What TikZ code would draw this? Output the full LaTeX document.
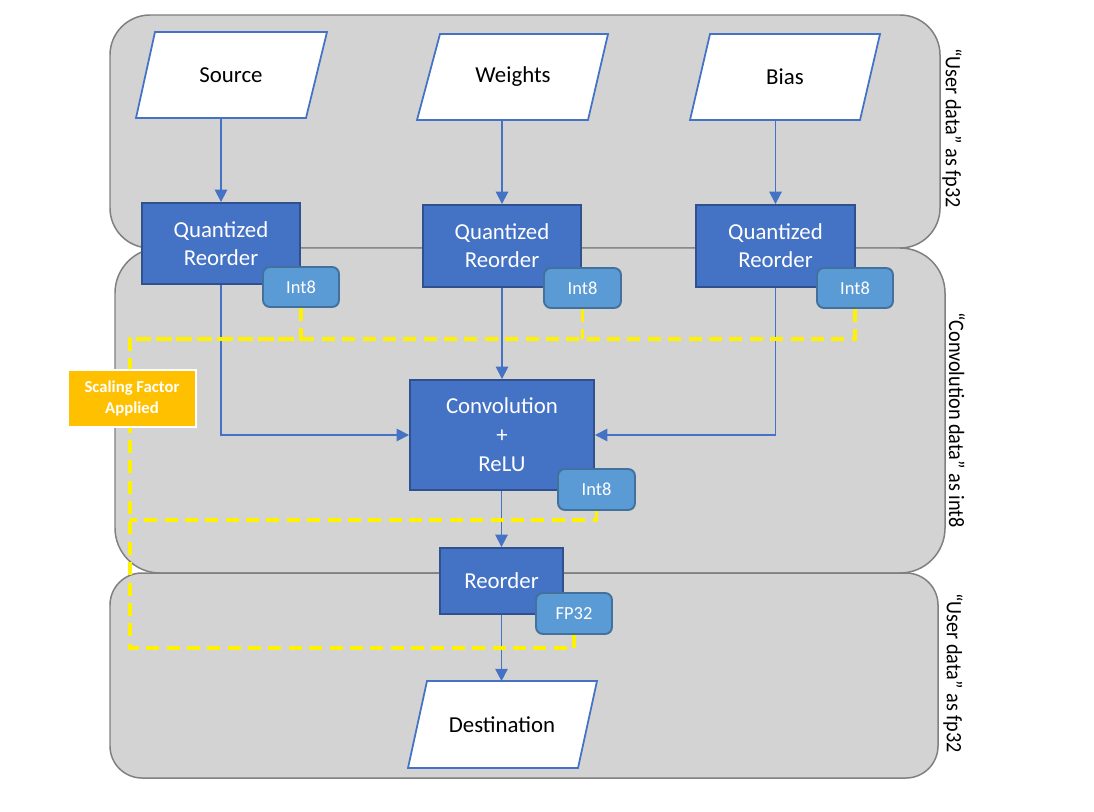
\documentclass[tikz,border=0pt]{standalone}
\usepackage{fontspec}
\setmainfont{Carlito}
\newfontfamily\sidefont[FakeStretch=0.92]{Carlito}
\usetikzlibrary{arrows.meta}
\newlength\px
\setlength\px{0.02cm}
\definecolor{panelgray}{HTML}{D3D3D3}
\definecolor{panelline}{HTML}{808080}
\definecolor{boxblue}{HTML}{4472C4}
\definecolor{boxline}{HTML}{2F528F}
\definecolor{tagblue}{HTML}{5B9BD5}
\definecolor{tagline}{HTML}{41719C}
\definecolor{scaleorange}{HTML}{FFC000}
\tikzset{
  panel/.style={fill=panelgray, draw=panelline, line width=0.85pt},
  procbox/.style={fill=boxblue, draw=boxline, line width=1.1pt, text=white, align=center, font=\fontsize{13}{16}\selectfont, inner sep=0pt},
  tagbox/.style={fill=tagblue, draw=tagline, line width=1.1pt, rounded corners=7\px, text=white, font=\fontsize{10.5}{12}\selectfont, inner sep=0pt},
  datashape/.style={fill=white, draw=boxblue, line width=1pt},
  datalabel/.style={font=\fontsize{13}{16}\selectfont, inner sep=0pt},
  flow/.style={draw=boxblue, line width=1pt, -{Triangle[length=7pt,width=7pt]}},
  scaleline/.style={draw=yellow, line width=1.9pt, dash pattern=on 7.4pt off 4.2pt},
  sidelabel/.style={font=\sidefont\fontsize{12.5}{14}\selectfont, rotate=-90, inner sep=0pt},
}
\begin{document}
\begin{tikzpicture}[x=0.02cm, y=-0.02cm]
\useasboundingbox (0,0) rectangle (1094,811);
% panels
\draw[panel, rounded corners=40\px] (110,15) rectangle (940,248);
\draw[panel, rounded corners=45\px] (115,248) rectangle (945,573);
\draw[panel, rounded corners=32\px] (110,573) rectangle (938,778);
% side labels
\node[sidelabel] (l1) at (952,128) {“User data” as fp32};
\node[sidelabel] (l2) at (957,420) {“Convolution data” as int8};
\node[sidelabel] (l3) at (953,673) {“User data” as fp32};
% data shapes
\draw[datashape] (155,32) -- (327,32) -- (306,118) -- (136,118) -- cycle;
\node[datalabel, minimum width=150\px, minimum height=86\px] (src) at (231,75) {Source};
\draw[datashape] (440,34) -- (608,34) -- (588,120) -- (417,120) -- cycle;
\node[datalabel, minimum width=150\px, minimum height=86\px] (wts) at (513,77) {Weights};
\draw[datashape] (710,34) -- (880,34) -- (860,120) -- (690,120) -- cycle;
\node[datalabel, minimum width=150\px, minimum height=86\px] (bias) at (785,77) {Bias};
\draw[datashape] (427,681) -- (597,681) -- (578,768) -- (408,768) -- cycle;
\node[datalabel, minimum width=150\px, minimum height=87\px] (dst) at (502,725) {Destination};
% process boxes
\node[procbox, minimum width=158\px, minimum height=81\px] (qr1) at (221,243.5) {Quantized\\Reorder};
\node[procbox, minimum width=158\px, minimum height=82\px] (qr2) at (502,246) {Quantized\\Reorder};
\node[procbox, minimum width=159\px, minimum height=82\px] (qr3) at (775.5,246) {Quantized\\Reorder};
\node[procbox, minimum width=184\px, minimum height=110\px, font=\fontsize{13}{16.5}\selectfont] (conv) at (502,435) {Convolution\\+\\ReLU};
\node[procbox, minimum width=123\px, minimum height=66\px] (reo) at (501.5,581) {Reorder};
% tags
\node[tagbox, minimum width=76\px, minimum height=40\px] (t1) at (301,287) {Int8};
\node[tagbox, minimum width=77\px, minimum height=40\px] (t2) at (582.5,288) {Int8};
\node[tagbox, minimum width=76\px, minimum height=40\px] (t3) at (855,288) {Int8};
\node[tagbox, minimum width=77\px, minimum height=41\px] (t4) at (596.5,489.5) {Int8};
\node[tagbox, minimum width=76\px, minimum height=41\px] (t5) at (574,613.5) {FP32};
% flows
\draw[flow] (src.south -| qr1.north) -- (qr1.north);
\draw[flow] (wts.south -| qr2.north) -- (qr2.north);
\draw[flow] (bias.south -| qr3.north) -- (qr3.north);
\draw[flow] (qr1.south) |- (conv.west);
\draw[flow] (qr2.south) -- (qr2.south |- conv.north);
\draw[flow] (qr3.south) |- (conv.east);
\draw[flow] (conv.south -| reo.north) -- (reo.north);
\draw[flow] (reo.south) -- (reo.south |- dst.north);
% scaling factor dashed lines
\coordinate (ytop) at (130,339);
\coordinate (ymid) at (130,520);
\coordinate (ybot) at (130,648);
\draw[scaleline] (t1.south) |- (ytop);
\draw[scaleline] (t2.south) -- (t2.south |- ytop);
\draw[scaleline] (t3.south) |- (ytop) -- (ybot) -| (t5.south);
\draw[scaleline] (t4.south) |- (ymid);
\node[fill=scaleorange, draw=white, line width=1.7pt, text=white, align=center, font=\bfseries\fontsize{9.5}{11.5}\selectfont, minimum width=128\px, minimum height=57\px, inner sep=0pt] (sf) at (132,398.5) {Scaling Factor\\Applied};
\end{tikzpicture}
\end{document}
